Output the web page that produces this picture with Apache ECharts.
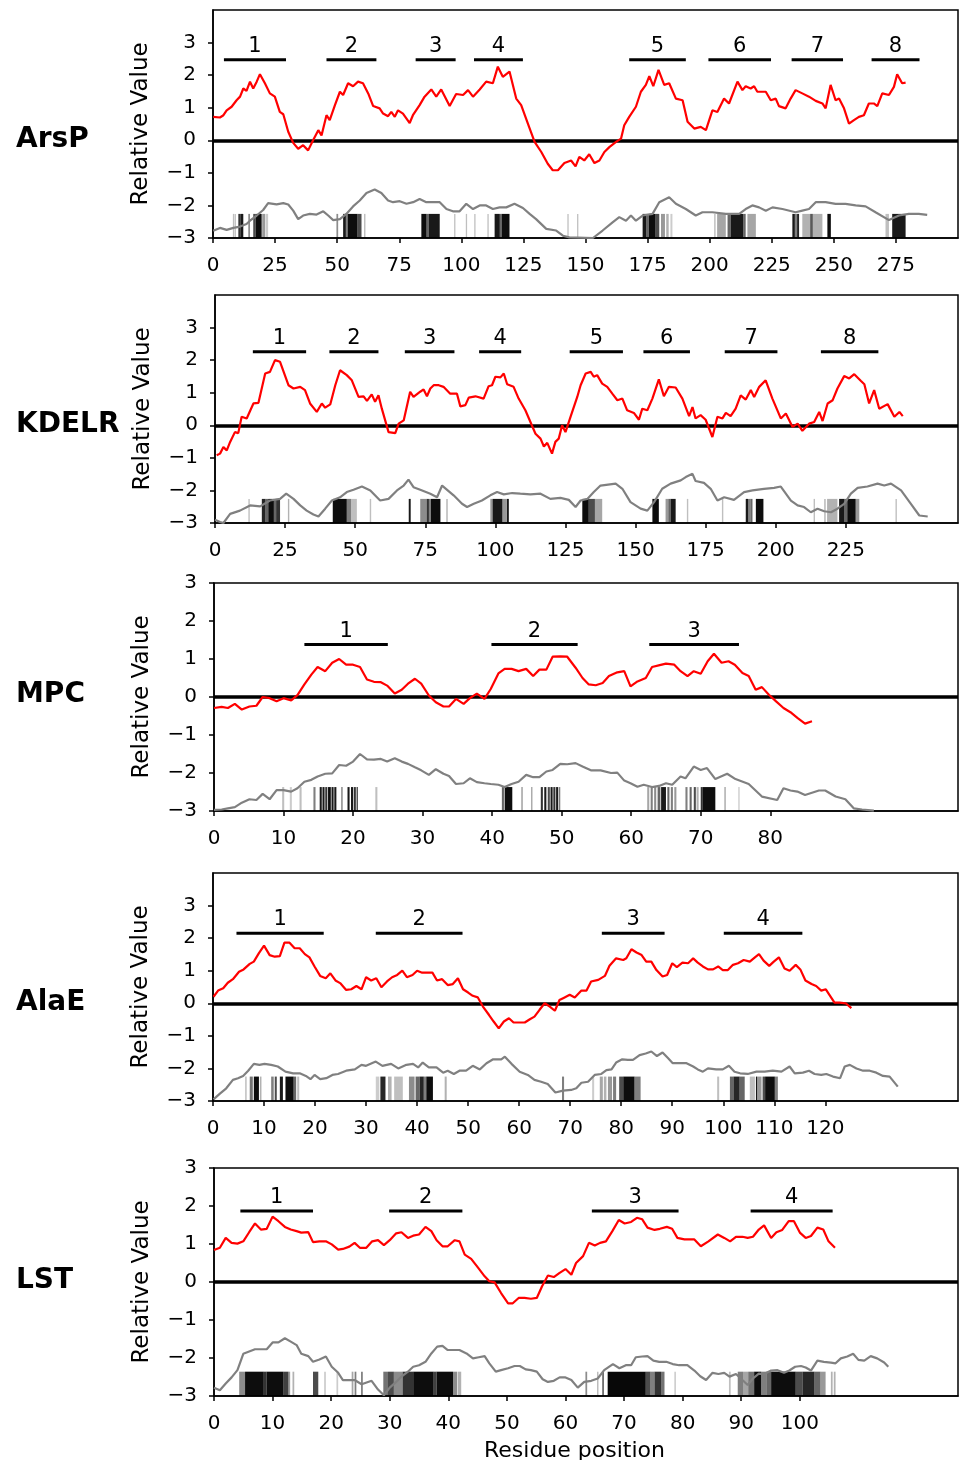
<!DOCTYPE html>
<html><head><meta charset="utf-8">
<script src="https://cdn.jsdelivr.net/npm/echarts@6/dist/echarts.min.js"></script>
<style>html,body{margin:0;padding:0;background:#fff}#c{width:963px;height:1460px}</style>
</head><body><div id="c"></div>
<script>
// ---------------- DATA ----------------
const proteinNames = ['ArsP', 'KDELR', 'MPC', 'AlaE', 'LST'];
const yTickValues = [-3, -2, -1, 0, 1, 2, 3];
const arspXTicks = [0,25,50,75,100,125,150,175,200,225,250,275];
const kdelrXTicks = [0,25,50,75,100,125,150,175,200,225];
const mpcXTicks = [0,10,20,30,40,50,60,70,80];
const alaeXTicks = [0,10,20,30,40,50,60,70,80,90,100,110,120];
const lstXTicks = [0,10,20,30,40,50,60,70,80,90,100];
const xAxisMax = [300, 265, 107, 146, 127];
const yAxisMax = [4, 4, 3, 4, 3];

// hydropathy (red) [residue, value]
const arspHydro = [[0.1,0.72],[2.8,0.70],[4.2,0.77],[5.5,0.92],[7.5,1.03],[9.5,1.23],[10.9,1.34],[12.2,1.59],[13.5,1.52],[14.9,1.80],[16.2,1.59],[17.6,1.80],[18.9,2.03],[20.9,1.75],[22.9,1.44],[24.9,1.34],[26.9,0.87],[28.3,0.80],[30.3,0.26],[32.3,-0.08],[34.3,-0.26],[36.3,-0.15],[38.3,-0.31],[40.3,0.0],[42.4,0.31],[43.7,0.15],[45.7,0.77],[47.0,0.62],[49.1,1.08],[51.1,1.49],[52.4,1.39],[54.4,1.75],[56.4,1.66],[58.4,1.80],[60.4,1.75],[62.5,1.44],[64.5,1.05],[67.1,0.98],[68.5,0.82],[70.5,0.74],[71.8,0.87],[73.2,0.72],[74.5,0.92],[76.5,0.82],[79.2,0.53],[80.5,0.77],[83.2,1.08],[85.2,1.34],[87.9,1.56],[89.9,1.34],[91.9,1.56],[95.3,1.05],[97.9,1.42],[100.7,1.39],[102.7,1.54],[104.7,1.34],[107.4,1.56],[110.0,1.80],[112.7,1.75],[114.7,2.26],[116.7,1.95],[119.4,2.11],[122.1,1.28],[124.1,1.08],[126.8,0.51],[129.5,-0.05],[132.2,-0.36],[134.8,-0.72],[136.8,-0.92],[138.9,-0.92],[141.5,-0.70],[144.2,-0.62],[146.0,-0.80],[147.5,-0.51],[149.5,-0.62],[151.5,-0.43],[153.6,-0.70],[155.6,-0.62],[157.6,-0.36],[159.6,-0.21],[162.3,-0.05],[164.3,0.05],[165.6,0.46],[167.6,0.72],[170.3,1.03],[172.3,1.49],[174.3,1.70],[175.7,1.97],[177.3,1.66],[179.4,2.16],[181.7,1.70],[183.7,1.75],[186.4,1.28],[189.1,1.23],[191.1,0.57],[193.8,0.36],[196.4,0.41],[198.5,0.31],[201.1,0.92],[203.1,0.87],[205.8,1.28],[207.8,1.13],[211.2,1.80],[213.2,1.54],[214.5,1.66],[216.5,1.59],[217.9,1.66],[219.2,1.49],[222.6,1.49],[224.6,1.23],[226.6,1.28],[227.9,1.05],[230.6,0.98],[232.6,1.28],[234.6,1.54],[237.3,1.44],[240.0,1.34],[242.7,1.21],[245.4,1.13],[246.7,0.98],[248.7,1.70],[250.7,1.23],[252.1,1.28],[254.1,0.98],[256.1,0.51],[258.1,0.62],[260.1,0.72],[262.1,0.77],[264.1,1.13],[266.1,1.13],[267.5,1.05],[269.5,1.44],[272.2,1.39],[274.2,1.64],[275.5,2.03],[277.5,1.75],[278.9,1.77]];
const kdelrHydro = [[0.6,-0.92],[1.8,-0.87],[3.0,-0.67],[4.2,-0.77],[5.4,-0.51],[7.1,-0.21],[8.3,-0.24],[9.5,0.26],[11.3,0.21],[13.7,0.67],[15.5,0.69],[17.9,1.59],[19.6,1.64],[21.4,2.0],[23.2,1.95],[26.2,1.23],[28.0,1.13],[30.4,1.18],[32.1,1.08],[33.9,0.67],[36.3,0.41],[38.1,0.67],[39.3,0.54],[41.1,0.64],[42.9,1.23],[44.6,1.69],[47.0,1.54],[48.8,1.38],[51.2,0.87],[53.0,0.89],[54.2,0.75],[55.9,0.95],[57.1,0.72],[58.3,0.92],[59.5,0.51],[61.9,-0.21],[64.3,-0.24],[65.5,0.05],[67.3,0.15],[69.6,1.03],[70.8,0.87],[73.2,1.03],[74.4,1.10],[75.6,0.89],[76.8,1.13],[78.0,1.23],[79.8,1.23],[81.5,1.18],[83.9,0.97],[86.3,0.97],[87.5,0.58],[89.3,0.62],[90.5,0.85],[92.9,0.89],[95.8,0.82],[97.6,1.20],[98.8,1.23],[100.0,1.49],[101.8,1.47],[103.0,1.59],[104.2,1.26],[106.5,1.18],[108.3,0.82],[110.7,0.46],[112.5,0.10],[114.3,-0.26],[116.1,-0.41],[117.3,-0.65],[118.5,-0.54],[120.2,-0.87],[121.4,-0.51],[122.6,-0.41],[123.8,0.0],[125.0,-0.21],[126.8,0.26],[129.2,0.87],[130.4,1.23],[132.2,1.59],[134.0,1.64],[135.1,1.49],[136.3,1.54],[138.1,1.28],[139.9,1.18],[141.7,0.97],[143.5,0.77],[145.3,0.82],[147.0,0.46],[149.4,0.38],[151.2,0.17],[152.4,0.51],[154.2,0.46],[156.0,0.82],[158.3,1.41],[160.1,0.89],[161.9,1.18],[164.3,1.16],[166.7,0.82],[169.1,0.28],[170.3,0.56],[171.4,0.21],[173.2,0.31],[175.0,0.17],[177.4,-0.36],[179.2,0.26],[181.0,0.21],[182.2,0.38],[183.9,0.28],[185.7,0.51],[187.5,0.92],[189.3,0.79],[191.1,1.08],[192.3,0.87],[194.1,1.18],[196.4,1.38],[198.8,0.82],[201.8,0.21],[203.6,0.36],[206.0,-0.05],[207.8,0.05],[209.5,-0.17],[211.9,0.05],[213.7,0.10],[215.5,0.41],[216.7,0.13],[218.5,0.67],[220.3,0.77],[222.0,1.13],[224.4,1.51],[226.2,1.44],[228.0,1.57],[230.4,1.36],[231.6,1.26],[233.3,0.67],[235.1,1.08],[236.9,0.51],[239.9,0.65],[242.3,0.26],[244.1,0.41],[245.3,0.28]];
const mpcHydro = [[0,-0.29],[1.1,-0.26],[2.0,-0.29],[3.0,-0.18],[4.0,-0.33],[5.1,-0.25],[6.1,-0.23],[7.0,0.0],[8.0,-0.03],[9.0,-0.11],[10.0,-0.03],[11.1,-0.09],[12.0,0.05],[13.0,0.33],[14.0,0.59],[14.9,0.79],[16.0,0.68],[17.0,0.90],[18.0,1.0],[19.0,0.85],[20.0,0.85],[21.0,0.79],[22.0,0.46],[23.0,0.40],[24.0,0.39],[24.9,0.30],[26.0,0.09],[27.0,0.19],[27.9,0.35],[28.9,0.48],[29.8,0.35],[30.9,0.04],[31.9,-0.14],[33.0,-0.25],[33.8,-0.25],[34.8,-0.05],[35.9,-0.18],[36.8,-0.03],[37.8,0.09],[38.9,-0.05],[39.8,0.21],[40.9,0.62],[41.8,0.74],[42.8,0.74],[43.8,0.68],[44.9,0.74],[45.9,0.55],[46.8,0.72],[47.8,0.72],[48.7,1.06],[49.8,1.07],[50.8,1.06],[52.0,0.77],[53.0,0.50],[53.9,0.33],[54.9,0.31],[55.9,0.37],[56.8,0.55],[58.0,0.65],[59.0,0.68],[59.9,0.28],[60.9,0.41],[62.1,0.50],[63.0,0.79],[64.1,0.84],[65.0,0.88],[66.2,0.85],[67.1,0.68],[68.1,0.55],[69.0,0.68],[70.0,0.61],[71.0,0.94],[71.9,1.14],[73.0,0.90],[74.0,0.94],[74.9,0.85],[76.0,0.63],[76.9,0.55],[77.9,0.19],[78.8,0.26],[79.8,0.06],[80.8,-0.11],[81.9,-0.29],[82.9,-0.40],[83.9,-0.55],[85.0,-0.70],[86.0,-0.64]];
const alaeHydro = [[0.1,0.20],[1.0,0.39],[2.0,0.46],[2.9,0.63],[3.9,0.74],[5.1,0.97],[6.0,1.04],[7.2,1.21],[8.0,1.28],[9.0,1.54],[10.0,1.77],[11.1,1.48],[12.1,1.43],[13.1,1.45],[14.0,1.86],[15.0,1.86],[16.0,1.69],[17.0,1.69],[18.0,1.51],[18.9,1.41],[19.9,1.13],[21.0,0.84],[22.1,0.77],[23.0,0.92],[24.0,0.70],[25.0,0.61],[26.1,0.41],[27.1,0.43],[28.1,0.53],[29.1,0.43],[30.0,0.80],[31.0,0.70],[32.0,0.77],[33.0,0.49],[34.1,0.67],[35.1,0.80],[36.1,0.87],[37.1,1.0],[38.0,0.80],[39.1,0.87],[40.0,1.0],[41.0,0.94],[41.9,0.94],[43.0,0.94],[43.9,0.70],[44.9,0.74],[46.0,0.56],[47.0,0.59],[48.0,0.77],[49.0,0.43],[50.0,0.33],[50.9,0.23],[51.9,0.18],[52.9,-0.10],[54.1,-0.36],[55.0,-0.56],[56.0,-0.77],[57.0,-0.56],[58.0,-0.46],[58.9,-0.59],[60.0,-0.59],[61.1,-0.59],[62.1,-0.49],[63.0,-0.41],[64.0,-0.20],[65.0,0.0],[66.0,-0.10],[67.0,-0.23],[67.9,0.10],[68.9,0.18],[69.9,0.26],[70.9,0.18],[72.2,0.39],[73.2,0.39],[74.1,0.67],[75.5,0.72],[76.8,0.84],[77.7,1.15],[79.0,1.38],[80.4,1.33],[81.0,1.38],[82.0,1.66],[83.0,1.56],[84.0,1.48],[84.9,1.28],[85.9,1.28],[86.9,1.02],[88.1,0.82],[89.0,0.87],[90.0,1.23],[90.9,1.11],[92.0,1.25],[93.1,1.23],[94.1,1.38],[95.0,1.25],[96.0,1.13],[97.0,1.04],[98.0,1.04],[99.0,1.13],[99.9,1.02],[100.9,1.02],[101.9,1.18],[102.9,1.23],[104.0,1.33],[105.2,1.28],[106.2,1.41],[107.0,1.51],[107.9,1.31],[109.0,1.15],[109.9,1.28],[110.9,1.41],[112.0,1.07],[113.0,1.0],[114.2,1.18],[115.1,1.04],[116.1,0.70],[117.3,0.59],[118.2,0.53],[119.2,0.39],[120.1,0.43],[120.8,0.26],[121.8,0.02],[122.8,0.02],[124.0,0.0],[125.1,-0.15]];
const lstHydro = [[0,0.84],[1.0,0.90],[2.0,1.16],[3.0,1.03],[4.0,1.01],[5.0,1.07],[6.0,1.31],[7.0,1.54],[8.0,1.38],[9.0,1.40],[10.0,1.72],[11.0,1.60],[12.1,1.45],[13.1,1.38],[14.1,1.34],[14.9,1.30],[16.1,1.31],[16.9,1.05],[18.0,1.07],[19.1,1.07],[20.1,0.99],[21.2,0.85],[22.0,0.87],[23.1,0.93],[24.0,1.03],[24.9,0.90],[26.0,0.90],[27.0,1.07],[28.0,1.10],[29.0,0.97],[30.0,1.10],[31.1,1.28],[32.0,1.31],[33.1,1.16],[34.0,1.22],[35.0,1.25],[36.1,1.45],[37.1,1.34],[38.0,1.10],[39.0,0.94],[39.9,0.94],[41.1,1.10],[41.9,1.07],[42.8,0.72],[43.9,0.61],[45.1,0.37],[46.2,0.15],[47.0,0.02],[47.9,-0.01],[49.0,-0.29],[50.2,-0.56],[51.0,-0.56],[52.0,-0.42],[53.0,-0.42],[54.1,-0.44],[55.1,-0.42],[56.0,-0.11],[57.0,0.17],[58.0,0.13],[59.0,0.24],[60.0,0.34],[61.0,0.19],[61.8,0.50],[63.0,0.68],[64.0,1.03],[65.0,0.96],[65.9,1.03],[66.9,1.07],[68.0,1.34],[69.1,1.63],[70.1,1.54],[71.2,1.58],[72.2,1.69],[73.1,1.65],[74.0,1.43],[75.2,1.37],[76.1,1.40],[77.3,1.45],[78.2,1.40],[79.1,1.16],[80.3,1.12],[82.0,1.12],[83.1,0.94],[84.4,1.07],[86.0,1.25],[87.1,1.16],[88.1,1.07],[89.1,1.19],[90.2,1.19],[91.1,1.16],[92.0,1.19],[93.0,1.38],[93.9,1.49],[95.1,1.16],[96.0,1.31],[97.0,1.37],[98.1,1.60],[99.0,1.60],[100.0,1.30],[101.0,1.16],[101.9,1.21],[103.0,1.43],[104.0,1.38],[104.9,1.07],[106.0,0.90]];

// conservation / second profile (grey) [residue, value]
const arspCons = [[0.1,-2.78],[2.8,-2.69],[5.5,-2.75],[8.2,-2.69],[10.9,-2.65],[13.5,-2.57],[14.9,-2.47],[17.6,-2.31],[20.2,-2.14],[22.2,-1.93],[25.6,-1.97],[28.3,-1.93],[30.3,-1.97],[32.3,-2.16],[34.3,-2.42],[36.3,-2.31],[39.0,-2.26],[41.7,-2.28],[44.4,-2.18],[46.4,-2.31],[48.4,-2.45],[51.1,-2.42],[53.7,-2.26],[56.4,-2.03],[59.1,-1.85],[61.8,-1.62],[65.1,-1.51],[67.8,-1.62],[70.5,-1.85],[72.5,-1.90],[75.2,-1.87],[77.9,-1.95],[80.6,-1.90],[83.2,-1.80],[85.9,-1.90],[88.6,-1.90],[91.3,-1.90],[94.0,-2.11],[96.6,-2.18],[99.3,-2.18],[102.0,-1.95],[104.7,-2.11],[107.4,-2.0],[110.0,-2.0],[112.7,-2.11],[115.4,-2.06],[118.1,-2.06],[121.4,-1.95],[124.8,-2.08],[127.5,-2.26],[130.1,-2.42],[134.2,-2.72],[138.2,-2.77],[140.9,-2.93],[143.5,-2.98],[153.0,-3.0],[156.9,-2.77],[160.9,-2.52],[163.6,-2.36],[166.3,-2.47],[168.3,-2.31],[170.3,-2.47],[173.0,-2.31],[177.0,-2.26],[179.7,-1.90],[183.7,-1.75],[186.4,-1.95],[190.4,-2.11],[194.4,-2.31],[197.1,-2.21],[201.1,-2.21],[206.5,-2.26],[211.9,-2.26],[214.5,-2.11],[217.2,-2.0],[219.9,-2.06],[222.6,-2.16],[225.3,-2.06],[229.3,-2.11],[234.6,-2.21],[237.3,-2.16],[240.0,-2.11],[242.7,-1.90],[246.7,-1.90],[250.7,-1.95],[254.7,-1.95],[258.8,-2.0],[262.8,-2.03],[266.8,-2.21],[272.2,-2.45],[276.2,-2.31],[280.2,-2.26],[284.2,-2.26],[287.6,-2.29]];
const kdelrCons = [[0,-2.90],[1.8,-2.97],[3.0,-3.0],[5.4,-2.72],[8.9,-2.62],[12.5,-2.46],[16.1,-2.49],[19.6,-2.31],[23.2,-2.26],[25.4,-2.10],[28.0,-2.26],[30.4,-2.46],[32.7,-2.62],[35.1,-2.74],[36.9,-2.80],[39.3,-2.56],[41.7,-2.31],[44.6,-2.21],[47.0,-2.05],[49.4,-1.98],[52.4,-1.88],[55.4,-2.0],[58.9,-2.31],[61.9,-2.26],[64.9,-2.0],[67.3,-1.85],[69.0,-1.67],[70.8,-1.90],[73.2,-1.98],[76.8,-2.10],[79.2,-2.21],[81.0,-1.85],[85.1,-2.15],[88.1,-2.41],[89.9,-2.51],[92.3,-2.41],[95.2,-2.31],[98.2,-2.15],[100.6,-2.05],[103.0,-2.12],[106.0,-2.08],[108.9,-2.10],[112.5,-2.12],[116.1,-2.10],[119.6,-2.26],[123.2,-2.23],[126.2,-2.29],[128.6,-2.51],[130.4,-2.31],[132.8,-2.26],[135.1,-2.05],[137.5,-1.85],[142.9,-1.79],[145.3,-1.95],[148.2,-2.36],[151.8,-2.56],[154.2,-2.62],[156.6,-2.36],[159.5,-1.95],[162.5,-1.79],[166.1,-1.69],[167.9,-1.59],[170.3,-1.49],[171.4,-1.71],[174.4,-1.77],[176.8,-1.95],[179.2,-2.31],[181.6,-2.21],[185.1,-2.29],[188.7,-2.05],[191.7,-2.0],[195.8,-1.95],[199.4,-1.92],[201.8,-1.88],[205.4,-2.31],[207.8,-2.46],[210.1,-2.51],[212.5,-2.67],[214.9,-2.56],[217.3,-2.64],[219.7,-2.67],[222.0,-2.56],[224.4,-2.41],[226.8,-2.10],[229.2,-1.92],[232.7,-1.88],[236.3,-1.79],[238.7,-1.85],[241.1,-1.79],[244.7,-2.0],[248.2,-2.41],[251.2,-2.77],[254.2,-2.80]];
const mpcCons = [[0,-2.97],[1.1,-2.96],[2.0,-2.93],[3.0,-2.90],[4.0,-2.78],[5.1,-2.69],[6.1,-2.71],[7.0,-2.55],[8.0,-2.69],[9.0,-2.45],[10.0,-2.45],[11.1,-2.49],[12.0,-2.40],[13.0,-2.23],[14.0,-2.18],[14.9,-2.09],[16.0,-2.02],[17.0,-2.01],[18.0,-1.79],[19.0,-1.81],[20.0,-1.70],[21.0,-1.50],[22.0,-1.64],[23.0,-1.65],[24.0,-1.63],[24.9,-1.70],[26.0,-1.61],[27.0,-1.70],[27.9,-1.76],[28.9,-1.85],[29.8,-1.93],[30.9,-2.05],[31.9,-1.90],[33.0,-2.02],[33.8,-2.08],[34.8,-2.29],[35.9,-2.27],[36.8,-2.14],[37.8,-2.24],[38.9,-2.27],[39.8,-2.29],[40.9,-2.31],[41.8,-2.37],[42.8,-2.29],[43.8,-2.23],[44.9,-2.05],[45.9,-2.11],[46.8,-2.11],[47.8,-1.96],[48.7,-1.92],[49.8,-1.76],[50.8,-1.77],[52.0,-1.74],[53.0,-1.83],[54.2,-1.93],[55.6,-1.93],[57.1,-2.0],[58.0,-1.99],[59.0,-2.20],[59.9,-2.27],[60.9,-2.36],[61.8,-2.31],[63.0,-2.37],[64.0,-2.34],[65.0,-2.27],[65.9,-2.31],[67.1,-2.09],[67.8,-2.14],[69.0,-1.83],[70.0,-1.92],[70.9,-1.87],[72.1,-2.16],[73.8,-2.02],[75.0,-2.16],[76.9,-2.29],[78.8,-2.62],[81.0,-2.71],[81.9,-2.40],[82.9,-2.46],[83.9,-2.49],[85.0,-2.58],[87.0,-2.46],[87.9,-2.46],[89.4,-2.62],[90.8,-2.69],[92.0,-2.93],[93.2,-2.96],[94.9,-2.99]];
const alaeCons = [[0.1,-2.95],[1.3,-2.78],[2.6,-2.61],[3.9,-2.35],[4.9,-2.30],[5.9,-2.23],[6.9,-2.07],[8.0,-1.86],[9.1,-1.89],[10.1,-1.86],[11.4,-1.89],[12.7,-1.94],[14.2,-2.10],[15.7,-2.15],[17.0,-2.15],[18.2,-2.23],[19.1,-2.33],[19.9,-2.20],[21.0,-2.33],[22.2,-2.30],[23.4,-2.20],[24.5,-2.17],[26.1,-2.07],[27.8,-2.03],[29.1,-1.89],[30.0,-1.92],[31.9,-1.79],[33.2,-1.92],[34.9,-1.86],[36.3,-2.0],[37.9,-1.89],[39.2,-1.86],[40.2,-1.97],[41.1,-1.82],[42.3,-1.97],[43.8,-1.97],[45.1,-2.13],[46.0,-2.07],[47.2,-2.17],[48.3,-2.07],[49.6,-2.07],[50.9,-1.92],[52.3,-2.03],[53.6,-1.84],[54.9,-1.72],[56.5,-1.72],[57.2,-1.64],[58.5,-1.86],[60.1,-2.10],[61.7,-2.20],[63.0,-2.35],[64.3,-2.41],[65.6,-2.48],[67.1,-2.74],[68.6,-2.68],[70.2,-2.66],[71.2,-2.61],[72.2,-2.44],[73.5,-2.41],[74.8,-2.20],[76.1,-2.17],[77.1,-2.05],[78.1,-2.03],[79.0,-1.82],[80.2,-1.72],[81.3,-1.74],[82.3,-1.74],[83.6,-1.59],[84.8,-1.54],[85.9,-1.48],[87.0,-1.62],[88.1,-1.51],[89.2,-1.69],[90.1,-1.84],[91.5,-1.84],[92.8,-1.84],[94.1,-1.94],[95.0,-2.03],[96.0,-2.10],[97.0,-2.0],[98.6,-2.03],[99.9,-2.03],[101.1,-1.92],[102.2,-2.10],[103.3,-2.15],[104.8,-2.17],[106.5,-2.10],[108.1,-2.10],[109.7,-2.07],[111.4,-2.10],[113.0,-1.94],[114.0,-2.15],[115.6,-2.13],[116.8,-2.07],[117.9,-2.17],[119.2,-2.20],[120.2,-2.17],[121.5,-2.25],[122.9,-2.30],[123.8,-1.94],[124.8,-1.89],[126.1,-2.0],[127.4,-2.07],[128.7,-2.07],[130.0,-2.13],[131.3,-2.23],[132.6,-2.25],[134.2,-2.56]];
const lstCons = [[0,-2.78],[1.0,-2.85],[2.0,-2.67],[3.0,-2.51],[4.0,-2.32],[5.0,-1.89],[6.0,-1.83],[7.0,-1.77],[8.0,-1.77],[9.0,-1.77],[10.0,-1.59],[11.0,-1.59],[12.1,-1.48],[13.1,-1.57],[14.1,-1.66],[14.9,-1.89],[16.1,-1.95],[16.9,-2.10],[18.0,-2.04],[19.1,-1.96],[20.1,-2.23],[21.2,-2.39],[22.0,-2.58],[23.1,-2.58],[24.0,-2.58],[25.2,-2.69],[26.9,-2.60],[28.0,-2.83],[29.0,-2.98],[30.0,-2.78],[31.1,-2.63],[32.0,-2.49],[33.1,-2.36],[34.0,-2.23],[35.0,-2.19],[36.1,-2.10],[37.1,-1.88],[38.1,-1.70],[39.0,-1.68],[39.9,-1.79],[41.1,-1.79],[41.9,-1.79],[43.1,-1.88],[44.2,-2.01],[45.2,-1.98],[46.2,-1.95],[47.0,-2.14],[48.1,-2.36],[49.0,-2.32],[50.2,-2.27],[51.3,-2.21],[52.2,-2.21],[53.2,-2.30],[54.1,-2.32],[55.1,-2.36],[56.1,-2.56],[57.0,-2.63],[58.0,-2.60],[59.0,-2.51],[60.0,-2.51],[61.0,-2.58],[62.1,-2.78],[63.2,-2.63],[64.4,-2.60],[65.5,-2.54],[66.6,-2.32],[68.1,-2.16],[69.2,-2.27],[70.3,-2.19],[71.2,-2.19],[72.0,-1.98],[73.1,-1.96],[74.0,-1.95],[75.0,-2.07],[76.0,-2.10],[77.2,-2.10],[78.3,-2.16],[79.4,-2.19],[80.8,-2.19],[82.0,-2.33],[83.0,-2.48],[84.0,-2.58],[85.1,-2.39],[86.1,-2.42],[87.1,-2.39],[88.0,-2.49],[89.1,-2.42],[90.2,-2.58],[91.1,-2.71],[92.0,-2.54],[93.0,-2.41],[93.9,-2.42],[95.1,-2.33],[96.2,-2.32],[97.3,-2.39],[98.2,-2.33],[99.2,-2.23],[100.2,-2.21],[101.0,-2.25],[101.9,-2.33],[103.0,-2.07],[104.1,-2.10],[105.3,-2.12],[106.1,-2.14],[107.0,-2.01],[108.1,-1.96],[109.1,-1.89],[110.0,-2.05],[111.0,-2.07],[112.1,-1.95],[113.2,-2.01],[114.4,-2.12],[115.1,-2.23]];

// transmembrane segments [start, end] and the value level they sit at
const arspTm = [[4.4,29.4],[45.7,65.8],[81.6,97.7],[105.1,124.8],[167.6,190.4],[199.5,224.7],[233,253.7],[265.2,284.5]];
const kdelrTm = [[13.5,32.5],[40.8,58.3],[67.7,85.4],[94.2,109.2],[126.5,145.5],[152.8,169.4],[181.8,200.6],[216.1,236.6]];
const mpcTm = [[13.0,25.0],[39.9,52.3],[62.6,75.5]];
const alaeTm = [[4.6,21.7],[31.9,48.9],[76.2,88.5],[100.1,115.5]];
const lstTm = [[4.5,16.9],[29.9,42.4],[64.5,79.3],[91.6,105.6]];
const tmLevels = [2.47, 2.26, 1.38, 2.15, 1.87];

// barcode marks [start residue, end residue, opacity] and their top value
const arspMarks = [[8.0,8.4,0.25],[8.7,9.1,0.25],[10.2,11.2,0.8],[11.2,12.2,0.9],[14.2,14.9,0.45],[16.2,17.2,0.7],[17.2,19.6,0.95],[19.8,21,0.4],[21.2,22.2,0.2],[49.7,50.4,0.45],[52.4,53.5,0.9],[53.5,54.2,0.5],[54.2,58.2,0.95],[58.2,59.8,0.7],[60.8,61.4,0.25],[83.9,86,0.95],[86,86.8,0.6],[86.8,91.3,0.9],[97.1,97.6,0.25],[101.8,102.3,0.25],[105.2,105.7,0.25],[110.5,111,0.25],[113.4,115.5,0.9],[115.5,116.2,0.6],[116.2,119.4,0.95],[142.7,143.2,0.25],[146.6,147.1,0.25],[173,174.5,0.9],[174.5,175.5,0.6],[175.5,178,0.95],[178,179.7,0.7],[180.4,182,0.4],[182.5,183.5,0.3],[184.2,185,0.2],[201.8,202.4,0.25],[203,206.5,0.35],[207.2,208.5,0.6],[208.5,213.5,0.9],[213.5,214.5,0.6],[215.2,218.6,0.35],[233.3,234.3,0.9],[234.3,235.2,0.5],[235.2,236,0.85],[237.3,245.4,0.3],[240.5,241.5,0.5],[247.4,248.8,0.95],[270.8,272.2,0.25],[273.5,278.9,0.9]];
const kdelrMarks = [[11.9,12.4,0.25],[16.7,18,0.85],[18,19,0.6],[19,21,0.95],[21,21.8,0.6],[21.8,23.2,0.8],[26,26.5,0.3],[42,47,0.95],[47,48.5,0.5],[48.5,50.6,0.25],[55.2,55.7,0.25],[69.1,69.8,0.9],[73.2,75.5,0.45],[75.5,76.3,0.8],[76.3,77,0.5],[77,80.4,0.95],[82.5,83,0.3],[98.2,99,0.4],[99,102.5,0.9],[102.5,103.8,0.4],[104,104.8,0.9],[131,133.3,0.95],[133.3,135.5,0.7],[135.5,138.1,0.35],[156,158.3,0.95],[160.7,161.7,0.4],[161.7,162.5,0.6],[162.5,164.3,0.9],[168.3,168.8,0.25],[180.8,181.3,0.25],[189.3,190.2,0.9],[190.2,191,0.5],[191,191.7,0.6],[192.9,195.6,0.95],[213.5,214,0.25],[217.3,217.8,0.3],[218.3,222,0.3],[222.6,224.5,0.9],[224.5,225.5,0.6],[225.5,228.5,0.95],[228.5,229.8,0.4],[242.7,243.2,0.25]];
const mpcMarks = [[9.8,10.1,0.25],[10.9,11.2,0.2],[12.3,12.6,0.25],[14.3,14.6,0.5],[15.2,15.5,0.9],[15.6,15.9,0.9],[16.0,16.3,0.8],[16.4,16.8,0.95],[16.9,17.2,0.9],[17.3,17.6,0.9],[18.3,18.5,0.5],[19.2,19.5,0.9],[19.7,20.0,0.9],[20.1,20.4,0.8],[20.5,20.7,0.7],[23.2,23.5,0.25],[41.4,41.7,0.6],[41.8,42.9,0.95],[44.2,44.4,0.4],[45.6,45.8,0.35],[47.0,47.3,0.8],[47.5,47.8,0.9],[48.0,48.3,0.7],[48.4,48.7,0.9],[48.8,49.1,0.8],[49.2,49.5,0.9],[49.6,49.8,0.5],[62.3,62.6,0.35],[62.8,63.1,0.5],[63.3,63.6,0.45],[63.8,64.2,0.6],[64.3,65.0,0.9],[65.2,65.5,0.6],[65.7,66.0,0.5],[66.2,66.5,0.4],[67.8,68.1,0.5],[68.4,68.7,0.6],[69.0,69.3,0.7],[69.4,69.7,0.3],[70.0,70.3,0.8],[70.3,72.1,0.95],[73.4,73.6,0.35],[75.4,75.6,0.2]];
const alaeMarks = [[6.3,6.6,0.25],[7.2,7.8,0.55],[8.0,9.0,0.95],[9.2,9.5,0.3],[11.4,11.9,0.5],[12.1,12.5,0.7],[13.1,13.7,0.9],[14.2,15.8,0.95],[15.8,16.3,0.6],[16.5,16.9,0.25],[31.9,32.6,0.2],[32.8,33.8,0.85],[34.3,35,0.3],[35.5,37.2,0.25],[38.4,39.5,0.45],[39.7,40.5,0.6],[40.5,41.3,0.85],[41.3,41.8,0.5],[41.8,43.1,0.95],[45.4,45.8,0.3],[68.4,68.8,0.5],[74.3,74.7,0.2],[75.8,76.4,0.35],[76.6,77.1,0.3],[77.4,78.2,0.4],[78.4,79,0.5],[79.6,80.4,0.7],[80.4,82.6,0.95],[82.6,83.8,0.5],[98.8,99.2,0.25],[101.3,102,0.6],[102,103.2,0.85],[103.2,104.2,0.6],[105.2,106.2,0.25],[106.4,106.7,0.9],[106.8,107.5,0.4],[107.7,108.2,0.7],[108.2,110.1,0.95],[110.1,110.7,0.5]];
const lstMarks = [[4.3,5.3,0.45],[5.3,8.5,0.95],[8.5,9,0.8],[9,11.8,0.95],[11.8,12.7,0.75],[12.7,13.0,0.4],[13.4,13.7,0.3],[16.9,17.8,0.7],[18.8,19.1,0.2],[20.9,21.2,0.2],[23.5,23.8,0.35],[24.0,24.3,0.5],[25.1,25.4,0.5],[28.9,29.7,0.55],[29.7,30.7,0.7],[30.7,32.2,0.45],[32.2,34,0.8],[34,37.5,0.95],[37.5,38,0.75],[38,40.8,0.95],[40.8,41.5,0.45],[41.6,42.2,0.3],[63.4,63.7,0.45],[65.4,65.6,0.3],[66.3,66.5,0.8],[67.2,73.7,0.97],[73.7,74.5,0.7],[74.5,75.2,0.5],[75.2,76.3,0.8],[76.3,76.9,0.55],[78.6,78.8,0.25],[87.9,88.2,0.25],[89.4,90.3,0.5],[90.3,91.2,0.35],[91.2,92.2,0.55],[92.2,93.4,0.95],[93.4,94.3,0.5],[94.3,95.1,0.6],[95.1,99.3,0.95],[99.3,100.5,0.7],[100.5,102.5,0.85],[102.5,103.5,0.6],[103.5,104.4,0.4],[105.3,105.6,0.3],[105.8,106.1,0.3]];
const markTops = [-2.26, -2.26, -2.37, -2.25, -2.36];

// ---------------- CHART ----------------
const hydroSets = [arspHydro, kdelrHydro, mpcHydro, alaeHydro, lstHydro];
const consSets = [arspCons, kdelrCons, mpcCons, alaeCons, lstCons];
const tmSets = [arspTm, kdelrTm, mpcTm, alaeTm, lstTm];
const markSets = [arspMarks, kdelrMarks, mpcMarks, alaeMarks, lstMarks];
const xTickSets = [arspXTicks, kdelrXTicks, mpcXTicks, alaeXTicks, lstXTicks];

const FONT = 'DejaVu Sans';
const gridPos = [
  {left: 213, top: 10, height: 228},
  {left: 215, top: 295, height: 228},
  {left: 214, top: 583, height: 228},
  {left: 213, top: 873, height: 228},
  {left: 214, top: 1168, height: 228}
];
const nameY = [137, 422, 692, 1000, 1278];

const fmtMinus = v => (v < 0 ? '\u2212' + Math.abs(v) : String(v));

const grids = [], xAxes = [], yAxes = [], series = [], graphics = [];
proteinNames.forEach((nm, i) => {
  grids.push({left: gridPos[i].left, right: 5, top: gridPos[i].top, height: gridPos[i].height,
    show: true, borderColor: '#000', borderWidth: 1.5, backgroundColor: 'transparent'});
  xAxes.push({gridIndex: i, type: 'value', min: 0, max: xAxisMax[i],
    axisLine: {show: true, onZero: false, lineStyle: {color: '#000', width: 1.5}},
    axisTick: {show: true, length: 5, inside: false, customValues: xTickSets[i], lineStyle: {color: '#000', width: 1.5}},
    axisLabel: {customValues: xTickSets[i], color: '#000', fontFamily: FONT, fontSize: 20, margin: 18},
    splitLine: {show: false}});
  yAxes.push({gridIndex: i, type: 'value', min: -3, max: yAxisMax[i],
    name: 'Relative Value', nameLocation: 'middle', nameGap: 60,
    nameTextStyle: {color: '#000', fontFamily: FONT, fontSize: 23},
    axisLine: {show: true, onZero: false, lineStyle: {color: '#000', width: 1.5}},
    axisTick: {show: true, length: 5, customValues: yTickValues, lineStyle: {color: '#000', width: 1.5}},
    axisLabel: {customValues: yTickValues, color: '#000', fontFamily: FONT, fontSize: 20, margin: 17, formatter: fmtMinus},
    splitLine: {show: false}});

  const top = markTops[i];
  series.push({type: 'custom', xAxisIndex: i, yAxisIndex: i, silent: true, z: 1,
    data: markSets[i],
    encode: {x: [0, 1]},
    renderItem: (params, api) => {
      const a = api.coord([api.value(0), -3]);
      const b = api.coord([api.value(1), top]);
      const w = Math.max(1.3, b[0] - a[0]);
      return {type: 'rect', shape: {x: a[0], y: b[1], width: w, height: a[1] - b[1]},
        style: {fill: 'rgba(0,0,0,' + api.value(2) + ')'}};
    }});
  series.push({type: 'line', xAxisIndex: i, yAxisIndex: i, data: consSets[i], showSymbol: false, symbol: 'none',
    lineStyle: {color: '#808080', width: 2.2}, z: 3, silent: true});
  series.push({type: 'line', xAxisIndex: i, yAxisIndex: i, data: hydroSets[i], showSymbol: false, symbol: 'none',
    lineStyle: {color: '#ff0000', width: 2.2}, z: 4, silent: true,
    markLine: {silent: true, symbol: 'none', label: {show: false}, lineStyle: {color: '#000', width: 3.5, type: 'solid'},
      data: [{yAxis: 0}], z: 2}});
  const lvl = tmLevels[i];
  series.push({type: 'custom', xAxisIndex: i, yAxisIndex: i, silent: true, z: 5,
    data: tmSets[i].map(s => [s[0], s[1], lvl]),
    encode: {x: [0, 1], y: 2},
    renderItem: (params, api) => {
      const s = api.coord([api.value(0), api.value(2)]);
      const e = api.coord([api.value(1), api.value(2)]);
      return {type: 'group', children: [
        {type: 'line', shape: {x1: s[0], y1: s[1], x2: e[0], y2: e[1]}, style: {stroke: '#000', lineWidth: 3}},
        {type: 'text', x: (s[0] + e[0]) / 2, y: s[1] - 3,
          style: {text: String(params.dataIndex + 1), fill: '#000', font: '21px "DejaVu Sans"', align: 'center', verticalAlign: 'bottom'}}
      ]};
    }});
  graphics.push({type: 'text', left: 16, top: nameY[i] - 11,
    style: {text: nm, fill: '#000', font: 'bold 28px "DejaVu Sans"'}});
});
graphics.push({type: 'text', left: 484, top: 1440, style: {text: 'Residue position', fill: '#000', font: '22px "DejaVu Sans"'}});

const chart = echarts.init(document.getElementById('c'), null, {renderer: 'canvas'});
chart.setOption({animation: false, backgroundColor: '#fff', grid: grids, xAxis: xAxes, yAxis: yAxes, series: series, graphic: graphics});
</script></body></html>
